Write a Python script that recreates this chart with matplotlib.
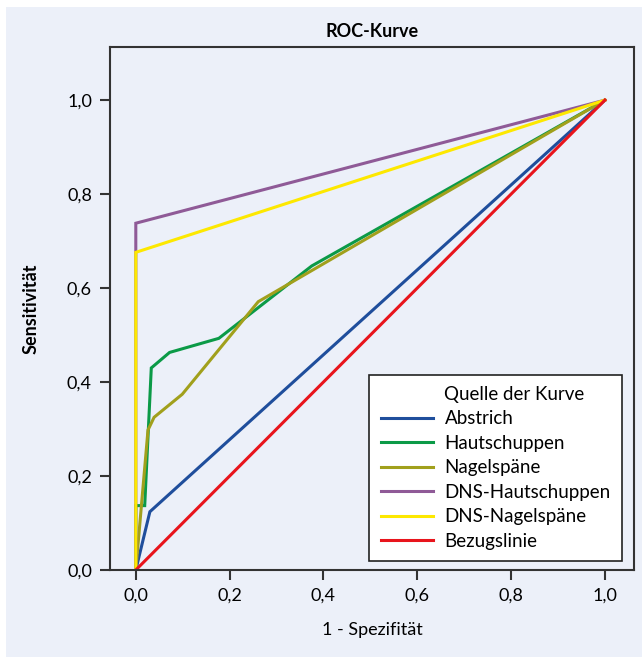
import matplotlib.pyplot as plt
from matplotlib.lines import Line2D
from matplotlib.patches import Rectangle

plt.rcParams['font.family'] = ['Lato', 'DejaVu Sans']

# ROC curves: (1 - Spezifitaet, Sensitivitaet)
abstrich_x = [0, 0.03, 1]
abstrich_y = [0, 0.124, 1]
haut_x = [0, 0, 0.019, 0.033, 0.072, 0.177, 0.375, 1]
haut_y = [0, 0.137, 0.137, 0.43, 0.463, 0.493, 0.647, 1]
nagel_x = [0, 0.026, 0.039, 0.099, 0.261, 1]
nagel_y = [0, 0.298, 0.325, 0.374, 0.571, 1]
dns_haut_x = [0, 0, 1]
dns_haut_y = [0, 0.738, 1]
dns_nagel_x = [0, 0, 1]
dns_nagel_y = [0, 0.676, 1]
bezug_x = [0, 1]
bezug_y = [0, 1]

labels = ['Abstrich', 'Hautschuppen', 'Nagelspäne', 'DNS-Hautschuppen',
          'DNS-Nagelspäne', 'Bezugslinie']
colors = ['#1f4e9c', '#0b9a47', '#a1a01c', '#8f5a97', '#fde800', '#e8141c']
ticks = [0.0, 0.2, 0.4, 0.6, 0.8, 1.0]
tick_labels = ['0,0', '0,2', '0,4', '0,6', '0,8', '1,0']

fs = 13
bg = '#ecf0f9'
fig = plt.figure(figsize=(6.42, 6.57), dpi=100)
fig.patch.set_facecolor('white')
fig.patches.append(Rectangle((6 / 642, 0), 1, 1 - 7 / 657, transform=fig.transFigure,
                             facecolor=bg, edgecolor='none', zorder=-10))

ax = fig.add_axes([110 / 642, 87 / 657, 524 / 642, 523 / 657])
ax.set_facecolor(bg)

series = [(abstrich_x, abstrich_y), (haut_x, haut_y), (nagel_x, nagel_y),
          (dns_haut_x, dns_haut_y), (dns_nagel_x, dns_nagel_y), (bezug_x, bezug_y)]
handles = [Line2D([], [], color='none')]
names = ['Quelle der Kurve']
for (xs, ys), lab, c in zip(series, labels, colors):
    ln, = ax.plot(xs, ys, color=c, linewidth=2.2, solid_joinstyle='miter')
    handles.append(ln)
    names.append(lab)

ax.set_xlim(-0.055, 1.062)
ax.set_ylim(0, 1.113)
ax.set_xticks(ticks)
ax.set_xticklabels(tick_labels)
ax.set_yticks(ticks)
ax.set_yticklabels(tick_labels)
for s in ax.spines.values():
    s.set_linewidth(1.5)
    s.set_color('#333333')
ax.tick_params(direction='out', length=7, width=1.5, color='#333333',
               labelsize=fs, pad=6)

ax.set_title('ROC-Kurve', fontsize=fs, fontweight='bold', pad=7)
ax.set_xlabel('1 - Spezifität', fontsize=fs, labelpad=13)
ax.set_ylabel('Sensitivität', fontsize=fs, fontweight='bold', labelpad=20)

leg = ax.legend(handles, names, loc='lower right', bbox_to_anchor=(0.977, 0.017),
                borderaxespad=0, fontsize=13.5, fancybox=False, framealpha=1,
                edgecolor='#222222', handlelength=2.8, handletextpad=0.6,
                labelspacing=0.4, borderpad=0.6)
leg.get_frame().set_linewidth(1.2)

fig.savefig('out.png', dpi=100, facecolor=fig.get_facecolor())
